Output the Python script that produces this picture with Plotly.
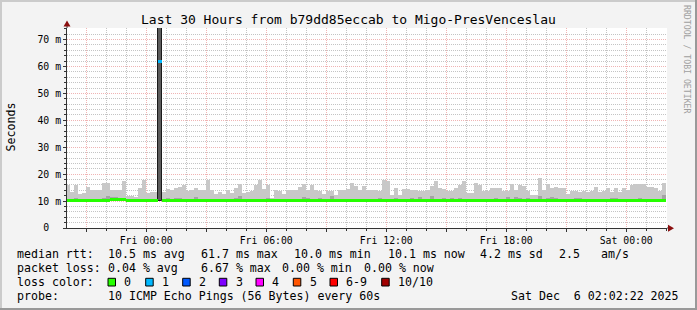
import plotly.graph_objects as go
import pandas as pd

# ---------------- data ----------------
# 12-minute consolidated columns, Thu 20:00 .. Sat 02:00 (150 columns)
col_start = "2025-12-04 20:00:00"
col_minutes = 12
x_range = ["2025-12-04 20:02:22", "2025-12-06 02:02:22"]

# upper edge of the light smoke (ms)
smoke_max = [
    16.0, 13.4, 16.0, 12.8, 13.0, 15.2, 14.3, 14.0, 14.0, 16.8,
    16.8, 14.3, 14.3, 14.3, 17.3, 11.8, 11.8, 11.5, 14.8, 17.7,
    13.0, 13.4, 13.4, 100.0, 13.4, 14.5, 14.0, 15.0, 15.4, 15.8,
    13.9, 14.3, 15.0, 14.0, 14.0, 17.7, 14.3, 12.8, 13.4, 12.6,
    14.0, 13.0, 14.7, 16.3, 13.0, 13.4, 13.7, 16.0, 18.0, 14.5,
    15.8, 11.3, 14.0, 13.6, 12.6, 14.0, 14.0, 14.0, 15.4, 16.5,
    14.0, 15.8, 14.0, 13.7, 12.6, 13.9, 13.9, 12.2, 14.3, 14.3,
    14.5, 16.7, 15.7, 14.2, 15.5, 14.0, 14.0, 14.2, 13.8, 18.0,
    17.6, 12.4, 14.9, 12.4, 14.5, 14.5, 14.2, 14.2, 13.6, 13.8,
    14.2, 15.5, 17.6, 14.9, 14.5, 13.6, 13.6, 14.9, 16.1, 17.6,
    13.1, 13.1, 16.9, 16.1, 13.8, 13.8, 14.7, 14.7, 14.7, 13.8,
    13.6, 16.4, 14.2, 16.1, 15.5, 13.8, 12.4, 12.4, 18.5, 14.2,
    16.4, 14.9, 15.2, 15.0, 14.7, 12.7, 13.6, 13.6, 13.2, 13.6,
    13.2, 13.6, 15.3, 13.2, 13.8, 14.7, 13.2, 14.7, 13.3, 14.7,
    14.3, 15.9, 16.4, 16.2, 16.4, 15.3, 15.3, 14.7, 13.6, 16.7,
]

# lower edge of the smoke (ms)
smoke_min = [10.0] * 23 + [9.9] + [10.0] * 126

# upper edge of the darker inner smoke (ms), None = not visible
smoke_dark = [
    None, None, 11.3, None, None, None, None, None, None, 11.0,
    12.0, 11.7, 11.5, 11.3, None, None, None, None, None, None,
    None, None, None, None, None, 11.0, None, 11.0, 11.0, None,
    None, None, 11.6, None, None, None, None, None, None, None,
    None, None, 11.0, 12.0, None, None, None, None, None, None,
    11.0, 10.9, 10.9, None, None, None, None, None, None, 11.6,
    11.0, None, None, 11.3, None, None, 11.9, None, None, None,
    None, None, None, None, None, None, None, None, 11.3, None,
    None, None, 11.0, None, None, None, 11.1, None, 11.6, None,
    None, 12.0, None, None, 11.0, None, 11.0, None, 11.1, None,
    None, None, None, None, None, None, None, 11.1, None, None,
    11.5, None, 11.6, 11.3, None, 11.0, None, None, 12.0, None,
    11.1, 11.4, 11.2, None, None, None, None, 11.1, 11.1, None,
    None, None, None, None, None, None, 11.3, 11.0, None, None,
    None, None, None, 11.0, 10.9, 10.9, 10.9, None, None, 12.2,
]

# median rtt per column (ms)
median = [10.3] * 11 + [10.6] * 4 + [10.3] * 8 + [61.7] + [10.3] * 126

# lost pings per column (of 10)
loss = [0] * 23 + [1] + [0] * 126

loss_colors = {0: "#26ff00", 1: "#00b8ff", 2: "#0059ff", 3: "#7e00ff",
               4: "#ff00ff", 5: "#ff5500", 6: "#ff0000", 10: "#a10000"}
legend_keys = ["0", "1", "2", "3", "4", "5", "6-9", "10/10"]
legend_vals = [0, 1, 2, 3, 4, 5, 6, 10]

y_tickvals = [0, 10, 20, 30, 40, 50, 60, 70]
y_ticktext = ["0\u00a0\u00a0", "10 m", "20 m", "30 m", "40 m", "50 m", "60 m", "70 m"]
x_tickvals = ["2025-12-04 21:00", "2025-12-05 00:00", "2025-12-05 03:00",
              "2025-12-05 06:00", "2025-12-05 09:00", "2025-12-05 12:00",
              "2025-12-05 15:00", "2025-12-05 18:00", "2025-12-05 21:00",
              "2025-12-06 00:00"]
x_ticktext = ["", "Fri 00:00", "", "Fri 06:00", "", "Fri 12:00", "",
              "Fri 18:00", "", "Sat 00:00"]

title = "Last 30 Hours from b79dd85eccab to Migo-PresVenceslau"
row_rtt = [("median rtt:", 16), ("10.5 ms avg", 107.3), ("61.7 ms max", 200),
           ("10.0 ms min", 293.3), ("10.1 ms now", 386.7), ("4.2 ms sd", 479.3),
           ("2.5", 558.3), ("am/s", 600)]
row_loss = [("packet loss:", 16), ("0.04 % avg", 107.3), ("6.67 % max", 200),
            ("0.00 % min", 281), ("0.00 % now", 363)]
probe_text = "10 ICMP Echo Pings (56 Bytes) every 60s"
stamp_text = "Sat Dec\u00a0\u00a06 02:02:22 2025"

# ---------------- layout geometry (pixels) ----------------
W, H = 697, 310
L, R, T, B = 67, 30, 28, 82
PW, PH = W - L - R, H - T - B


def px(x):
    return (x - L) / PW


def py(y):
    return (H - B - y) / PH


MONO = "DejaVu Sans Mono"

n = len(smoke_max)
centers = pd.date_range(pd.Timestamp(col_start) + pd.Timedelta(minutes=col_minutes / 2),
                        periods=n, freq=f"{col_minutes}min")
bar_w = col_minutes * 60 * 1000

smoke_fill = ["#5c5c5c" if l > 0 else "#c8c8c8" for l in loss]
smoke_line_w = [1 if l > 0 else 0 for l in loss]


def loss_color(l):
    if l >= 10:
        return loss_colors[10]
    if l >= 6:
        return loss_colors[6]
    return loss_colors[l]


fig = go.Figure()
fig.add_trace(go.Bar(
    x=centers, y=[mx - mn for mx, mn in zip(smoke_max, smoke_min)], base=smoke_min,
    width=bar_w, marker=dict(color=smoke_fill, line=dict(width=smoke_line_w, color="#1a1a1a")),
    hoverinfo="skip"))
fig.add_trace(go.Bar(
    x=centers, y=[(d - mn) if d is not None else None for d, mn in zip(smoke_dark, smoke_min)],
    base=smoke_min, width=bar_w, marker=dict(color="#a4a4a4", line=dict(width=0)),
    hoverinfo="skip"))
fig.add_trace(go.Bar(
    x=centers, y=[1.1] * n, base=[m - 0.55 for m in median], width=bar_w,
    marker=dict(color=[loss_color(l) for l in loss], line=dict(width=0)),
    hoverinfo="skip"))

axis_col = "#333333"
major_grid = "#f0b4b4"
minor_grid = "#c4c4c4"

fig.update_layout(
    width=W, height=H, margin=dict(l=L, r=R, t=T, b=B, pad=0),
    paper_bgcolor="#f3f3f3", plot_bgcolor="#ffffff",
    barmode="overlay", bargap=0, showlegend=False,
    font=dict(family=MONO, color="#000000"),
    xaxis=dict(
        type="date", range=x_range, tickmode="array", tickvals=x_tickvals,
        ticktext=x_ticktext, ticks="outside", ticklen=3, tickcolor=axis_col,
        showline=True, linecolor=axis_col, linewidth=1, zeroline=False,
        showgrid=True, gridcolor=major_grid, griddash="1px,1px", gridwidth=1,
        tickfont=dict(family=MONO, size=9.8, color="#000"),
        minor=dict(tickmode="linear", tick0="2025-12-04 21:00", dtick=3600000,
                   ticks="outside", ticklen=2, tickcolor=axis_col,
                   showgrid=True, gridcolor=minor_grid, griddash="1px,1px", gridwidth=1),
        fixedrange=True,
    ),
    yaxis=dict(
        range=[0, 74.3], tickmode="array", tickvals=y_tickvals, ticktext=y_ticktext,
        ticks="outside", ticklen=3, tickcolor=axis_col,
        showline=True, linecolor=axis_col, linewidth=1, zeroline=False,
        showgrid=True, gridcolor=major_grid, griddash="1px,1px", gridwidth=1,
        tickfont=dict(family=MONO, size=9.8, color="#000"),
        minor=dict(tickmode="linear", tick0=0, dtick=2, ticks="outside", ticklen=2,
                   tickcolor=axis_col, showgrid=True, gridcolor=minor_grid,
                   griddash="1px,1px", gridwidth=1),
        fixedrange=True,
    ),
)

shapes = []
# axis extensions and arrows
shapes.append(dict(type="line", xref="paper", yref="paper", x0=0, x1=0, y0=1, y1=py(25),
                   line=dict(color=axis_col, width=1)))
shapes.append(dict(type="line", xref="paper", yref="paper", x0=1, x1=px(669), y0=0, y1=0,
                   line=dict(color=axis_col, width=1)))
shapes.append(dict(type="path", xref="paper", yref="paper",
                   path=f"M {px(63.5)} {py(26.5)} L {px(70.5)} {py(26.5)} L {px(67)} {py(20.5)} Z",
                   fillcolor="#8b0f0f", line=dict(width=0)))
shapes.append(dict(type="path", xref="paper", yref="paper",
                   path=f"M {px(668)} {py(224.8)} L {px(668)} {py(231.8)} L {px(674)} {py(228.3)} Z",
                   fillcolor="#8b0f0f", line=dict(width=0)))
# 3D frame
shapes.append(dict(type="rect", xref="paper", yref="paper", x0=px(0), x1=px(W), y0=py(0), y1=py(2),
                   fillcolor="#cbcbcb", line=dict(width=0)))
shapes.append(dict(type="rect", xref="paper", yref="paper", x0=px(0), x1=px(2), y0=py(0), y1=py(H),
                   fillcolor="#cbcbcb", line=dict(width=0)))
shapes.append(dict(type="rect", xref="paper", yref="paper", x0=px(0), x1=px(W), y0=py(H - 2), y1=py(H),
                   fillcolor="#999999", line=dict(width=0)))
shapes.append(dict(type="rect", xref="paper", yref="paper", x0=px(W - 2), x1=px(W), y0=py(0), y1=py(H),
                   fillcolor="#999999", line=dict(width=0)))

annotations = []


def text(s, x, y, size=11.6, anchor="left", color="#000", angle=0):
    annotations.append(dict(text=s, x=px(x), y=py(y), xref="paper", yref="paper",
                            xanchor=anchor, yanchor="middle", showarrow=False,
                            borderpad=0, textangle=angle,
                            font=dict(family=MONO, size=size, color=color)))


text(title, 348.5, 19, size=13, anchor="center")
text("Seconds", 10.5, 127, size=11.6, anchor="center", angle=-90)
text("RRDTOOL / TOBI OETIKER", 687, 59, size=8.2, anchor="center", color="#a0a0a0", angle=90)

for s, x in row_rtt:
    text(s, x, 254.3)
for s, x in row_loss:
    text(s, x, 268.3)
text("loss color:", 16, 282.3)
box_x = [108, 145.7, 182.7, 219.3, 256, 293.3, 330, 381.7]
for key, val, bx in zip(legend_keys, legend_vals, box_x):
    shapes.append(dict(type="rect", xref="paper", yref="paper", x0=px(bx), x1=px(bx + 7.5),
                       y0=py(286), y1=py(278.3), fillcolor=loss_colors[val],
                       line=dict(color="#000", width=1)))
    text(key, bx + 15.3, 282.3)
text("probe:", 16, 295.7)
text(probe_text, 107.3, 295.7)
text(stamp_text, 680, 295.7, anchor="right")

fig.update_layout(shapes=shapes, annotations=annotations)
fig.write_html("out.html")
